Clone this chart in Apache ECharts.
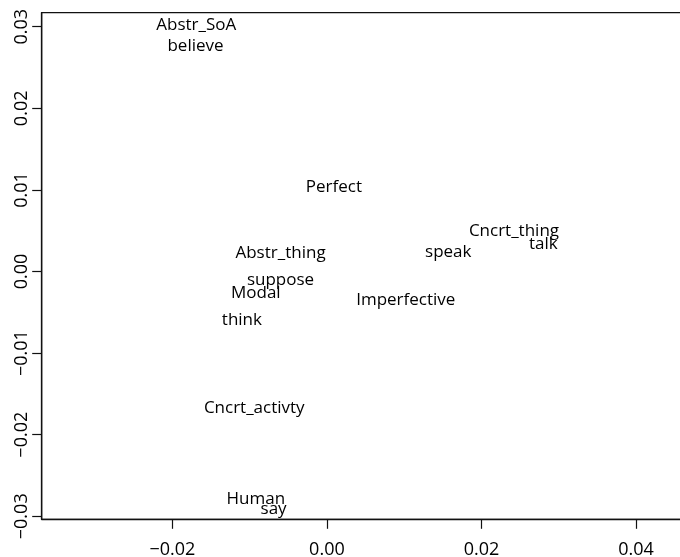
<!DOCTYPE html>
<html>
<head>
<meta charset="utf-8">
<script src="https://cdn.jsdelivr.net/npm/echarts@6/dist/echarts.min.js"></script>
<style>
  html, body { margin: 0; padding: 0; background: #fff; }
  #chart { width: 680px; height: 557px; }
</style>
</head>
<body>
<div id="chart"></div>
<script>
// Two-dimensional map of words and semantic categories
const terms = ['Abstr_SoA', 'believe', 'Perfect', 'Abstr_thing', 'suppose', 'Modal', 'think',
  'Imperfective', 'speak', 'Cncrt_thing', 'talk', 'Cncrt_activty', 'Human', 'say'];
const dim1 = [-0.0169, -0.0170, 0.0009, -0.0060, -0.0060, -0.0092, -0.0110,
  0.0102, 0.0157, 0.0242, 0.0280, -0.0094, -0.0092, -0.0069];
const dim2 = [0.0302, 0.0276, 0.0103, 0.0023, -0.0011, -0.0026, -0.0060,
  -0.0035, 0.0024, 0.0049, 0.0033, -0.0168, -0.0279, -0.0291];
const xTicks = [-0.02, 0.00, 0.02, 0.04];
const yTicks = [-0.03, -0.02, -0.01, 0.00, 0.01, 0.02, 0.03];

const FONT = 'Open Sans';
const fmt = v => (v < 0 ? '\u2212' : '') + Math.abs(v).toFixed(2);

const chart = echarts.init(document.getElementById('chart'), null, { renderer: 'canvas' });
chart.setOption({
  animation: false,
  grid: {
    left: 41.7, top: 12.7, width: 648.5, height: 506.6,
    outerBoundsMode: 'none', containLabel: false,
    show: true, borderColor: '#111', borderWidth: 1.3, backgroundColor: 'transparent'
  },
  xAxis: {
    type: 'value', min: -0.0369, max: 0.0470,
    axisLine: { show: true, onZero: false, lineStyle: { color: '#111', width: 1.3 } },
    axisTick: { show: true, length: 9.5, customValues: xTicks, lineStyle: { color: '#111', width: 1.2 } },
    axisLabel: { customValues: xTicks, formatter: fmt, margin: 22, color: '#000', fontFamily: FONT, fontSize: 18 },
    splitLine: { show: false }
  },
  yAxis: {
    type: 'value', min: -0.03037, max: 0.03172,
    axisLine: { show: true, onZero: false, lineStyle: { color: '#111', width: 1.3 } },
    axisTick: { show: true, length: 9.5, customValues: yTicks, lineStyle: { color: '#111', width: 1.2 } },
    axisLabel: { customValues: yTicks, formatter: fmt, rotate: 90, margin: 11, color: '#000', fontFamily: FONT, fontSize: 18 },
    splitLine: { show: false }
  },
  series: [{
    type: 'scatter',
    symbolSize: 0,
    itemStyle: { opacity: 1 },
    data: terms.map((t, i) => ({ name: t, value: [dim1[i], dim2[i]] })),
    label: {
      show: true, position: 'inside', formatter: p => p.name,
      color: '#000', textBorderWidth: 0, opacity: 1,
      fontFamily: FONT, fontSize: 17
    },
    labelLayout: { hideOverlap: false },
    emphasis: { disabled: true }
  }]
});
</script>
</body>
</html>
